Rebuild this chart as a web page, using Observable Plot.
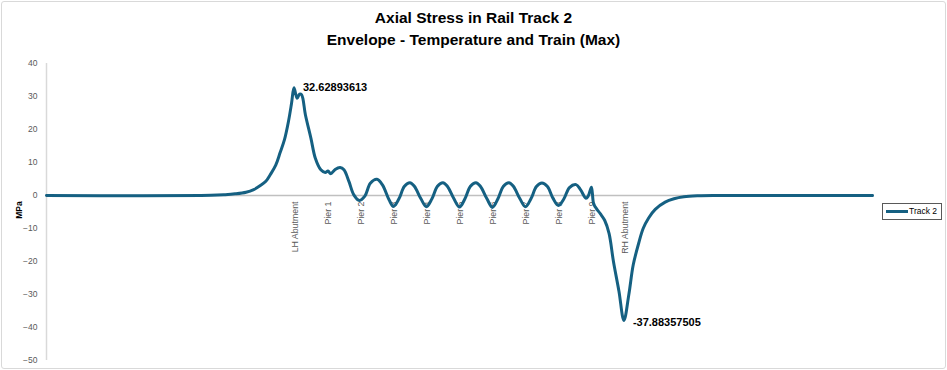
<!DOCTYPE html>
<html><head><meta charset="utf-8">
<script src="https://cdn.jsdelivr.net/npm/d3@7"></script>
<script src="https://cdn.jsdelivr.net/npm/@observablehq/plot@0.6"></script>
<style>
html,body{margin:0;padding:0;background:#fff;}
#wrap{position:relative;width:947px;height:370px;overflow:hidden;font-family:"Liberation Sans",Arial,sans-serif;}
#frame{position:absolute;left:1px;top:1px;width:943px;height:366px;border:1px solid #d9d9d9;border-radius:3px;box-sizing:content-box;}
.title{position:absolute;left:0;width:947px;text-align:center;font-weight:bold;font-size:15.5px;color:#000;line-height:18px;}
#chart{position:absolute;left:0;top:0;}
#legend{position:absolute;left:882px;top:203px;width:58px;height:15px;border:1px solid #595959;background:#fff;font-size:8.5px;color:#000;}
#legend .sw{position:absolute;left:3px;top:6px;width:22px;height:3px;background:#156082;}
#legend .lt{position:absolute;left:26px;top:2px;line-height:11px;}
#ylab{position:absolute;left:9px;top:205px;transform:rotate(-90deg);transform-origin:center;font-size:8.5px;font-weight:bold;width:20px;text-align:center;}
</style></head><body>
<div id="wrap">
  <div id="frame"></div>
  <div id="chart"></div>
  <div class="title" style="top:9px">Axial Stress in Rail Track 2</div>
  <div class="title" style="top:31px">Envelope - Temperature and Train (Max)</div>
  <div id="ylab">MPa</div>
  <div id="legend"><div class="sw"></div><div class="lt">Track 2</div></div>
</div>
<script>
// chainage (m), LH Abutment at 0, spans of 30 m
const chainage = [-226.4, -77, -64, -55, -45, -38, -32, -27, -23, -18, -14, -10, -6.4, -3.6, -1.4, 1.4, 3.6, 5.5, 9, 14, 18, 23, 27, 29.5, 32, 36, 40.5, 44, 48.6, 53, 58, 63, 68, 74, 79, 85, 89, 94, 99, 104, 108, 114, 119, 124, 129, 134, 138, 144, 149, 154, 159, 164, 168, 174, 179, 184, 189, 194, 198, 204, 209, 214, 219, 224, 229, 234, 239, 244, 249, 255, 259, 264, 266, 269, 271, 274, 277, 281, 285, 289, 294, 298.5, 303, 307, 312, 316, 321, 327, 336, 344, 353, 366, 382, 524.5];
const stress = [0, 0.05, 0.25, 0.5, 1.0, 1.8, 3.0, 4.3, 6.3, 9.2, 13.0, 17.0, 22.5, 28.0, 32.62893613, 29.5, 30.7, 30.5, 24.4, 17.3, 11.3, 7.8, 7.0, 7.4, 6.6, 7.9, 8.5, 7.8, 4.2, 0.2, -1.5, -0.2, 3.7, 4.9, 3.2, -1.3, -3.3, -1, 2.8, 3.9, 2.8, -1, -3.4, -1, 2.8, 3.9, 2.8, -1, -3.5, -1, 2.8, 3.9, 2.8, -1, -3.6, -1, 2.8, 3.9, 2.8, -1, -3.4, -1, 2.7, 3.8, 2.7, -0.8, -3.0, -1, 2.4, 3.3, 1.8, -0.8, -0.2, 2.5, -2.5, -4.2, -5.5, -7.5, -11.5, -20, -29, -37.88357505, -30, -21, -14.4, -10, -6.8, -4.2, -2.0, -1.0, -0.4, -0.1, 0, 0];
const supportPos = [0, 30, 60, 90, 120, 150, 180, 210, 240, 270, 300];
const supportLabels = ["LH Abutment", "Pier 1", "Pier 2", "Pier 3", "Pier 4", "Pier 5", "Pier 6", "Pier 7", "Pier 8", "Pier 9", "RH Abutment"];
const yTicks = [40, 30, 20, 10, 0, -10, -20, -30, -40, -50];
const maxLabel = "32.62893613";
const minLabel = "-37.88357505";

const data = chainage.map((x, i) => ({x, y: stress[i]}));
const maxPt = data.reduce((a, b) => (b.y > a.y ? b : a));
const minPt = data.reduce((a, b) => (b.y < a.y ? b : a));
const font = "'Liberation Sans', Arial, sans-serif";

const chart = Plot.plot({
  width: 947, height: 370,
  marginTop: 63, marginBottom: 10, marginLeft: 46, marginRight: 75,
  x: {domain: [chainage[0], chainage[chainage.length - 1]], axis: null},
  y: {domain: [-50, 40], axis: null},
  style: {background: "transparent", fontFamily: font, overflow: "visible"},
  marks: [
    Plot.axisY(yTicks, {anchor: "left", tickSize: 0, tickPadding: 9, fontSize: 8.5, color: "#595959", label: null}),
    Plot.ruleX([chainage[0]], {stroke: "#d9d9d9", strokeWidth: 1.5}),
    Plot.text(supportLabels, {x: (d, i) => supportPos[i], y: () => 0, text: d => d, rotate: -90, textAnchor: "end", lineAnchor: "middle", dy: 6, fontSize: 8.8, fill: "#595959"}),
    Plot.ruleY([0], {stroke: "#c0c0c0", strokeWidth: 1.5}),
    Plot.line(data, {x: "x", y: "y", stroke: "#156082", strokeWidth: 3, curve: "catmull-rom"}),
    Plot.text([maxPt], {x: "x", y: "y", text: () => maxLabel, textAnchor: "start", dx: 9, dy: 0, fontWeight: "bold", fontSize: 11, fill: "#000"}),
    Plot.text([minPt], {x: "x", y: "y", text: () => minLabel, textAnchor: "start", dx: 9, dy: 2, fontWeight: "bold", fontSize: 11, fill: "#000"})
  ]
});
document.getElementById("chart").appendChild(chart);
</script>
</body></html>
